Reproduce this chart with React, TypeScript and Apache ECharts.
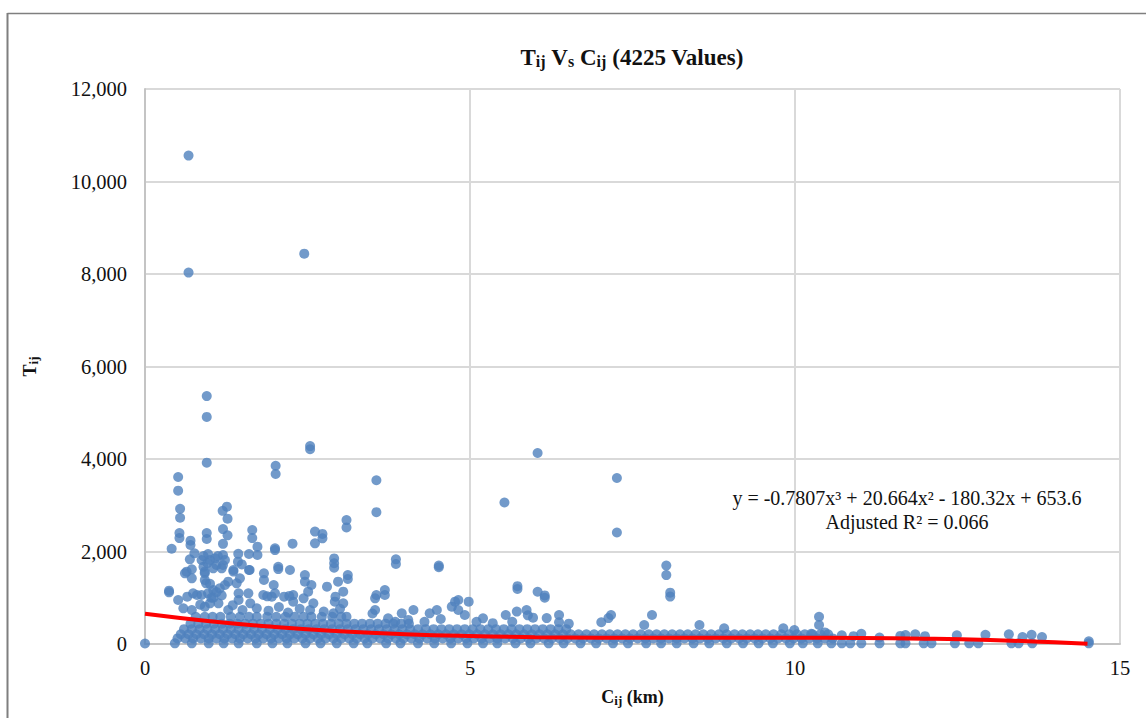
import React, { useEffect, useRef } from "react";
import * as echarts from "echarts";

const xTicks = [0, 5, 10, 15];
const yTicks = [0, 2000, 4000, 6000, 8000, 10000, 12000];

// isolated points: [Cij, Tij]
const outliers: number[][] = [
  [0, 10], [0.67, 10560], [0.67, 8030], [2.45, 8440], [0.95, 5360], [0.95, 4910], [0.95, 3920],
  [2.54, 4280], [2.54, 4210], [2.01, 3855], [2.01, 3675], [3.56, 3540], [3.56, 2850],
  [6.04, 4130], [7.26, 3590], [7.26, 2410], [5.53, 3060],
  [0.51, 3610], [0.51, 3315], [0.54, 2925], [0.54, 2730], [0.53, 2400], [0.53, 2290], [0.41, 2060],
  [0.7, 2235], [0.7, 2140], [0.76, 1960], [0.69, 1830],
  [1.26, 2970], [1.195, 2880], [1.27, 2710], [1.2, 2485], [1.27, 2350], [1.2, 2165],
  [0.95, 2400], [0.95, 2270], [1.65, 2465], [1.65, 2290], [1.73, 2105], [1.73, 1925], [1.6, 1945],
  [1.435, 1950], [1.43, 1780], [1.49, 1720], [1.6, 1600], [1.36, 1565],
  [2.0, 2070], [2.0, 2030], [2.27, 2170], [2.05, 1670], [2.05, 1620], [2.23, 1600],
  [2.615, 2430], [2.615, 2177], [2.73, 2380], [2.73, 2285],
  [3.1, 2680], [3.1, 2520], [2.91, 1850], [2.91, 1745], [2.91, 1650], [3.12, 1490], [3.12, 1405],
  [3.86, 1830], [3.86, 1730], [4.52, 1695], [4.52, 1660],
  [5.73, 1250], [5.73, 1190], [6.04, 1130], [6.15, 1050], [6.15, 1000],
  [8.02, 1695], [8.02, 1490], [8.08, 1110], [8.08, 1025],
];

// clusters above the dense band
const clusterLeft: number[][] = [
  [0.37, 1153], [0.37, 1117], [0.51, 951], [0.59, 771], [0.72, 735], [0.65, 1023], [0.74, 1095],
  [0.64, 1564], [0.72, 1614], [0.72, 1420], [0.615, 1528], [0.9, 1672], [0.92, 1528], [0.94, 1312],
  [0.87, 1060], [0.97, 1095], [0.92, 807], [1.0, 880], [1.0, 1816], [1.1, 1708], [1.2, 1708],
  [1.05, 1167], [1.23, 1275], [1.28, 1348], [1.15, 1203], [1.13, 880], [1.28, 735],
  [0.97, 1946], [0.87, 1816], [1.08, 1852], [1.2, 1924], [1.23, 1816], [1.18, 1636], [1.05, 1636],
  [0.92, 1564], [0.92, 1384], [0.8, 1060], [1.02, 1000], [1.1, 1120], [0.85, 850], [1.18, 1050],
  [1.0, 1300], [0.96, 1750], [0.9, 1900], [1.12, 1900], [1.05, 1000],
];
const clusterMid: number[][] = [
  [1.36, 1600], [1.46, 1420], [1.41, 1312], [1.44, 1095], [1.44, 951], [1.59, 1095], [1.62, 880],
  [1.72, 771], [1.5, 735], [1.61, 1600], [1.83, 1528], [1.83, 1384], [1.98, 1275], [1.82, 1060],
  [1.95, 1023], [2.0, 1095], [2.14, 1023], [2.28, 1060], [2.28, 915], [2.46, 1492], [2.46, 1348],
  [2.56, 1275], [2.51, 1131], [2.44, 987], [2.59, 880], [2.54, 735], [2.8, 1240], [2.97, 1348],
  [3.05, 1131], [2.93, 1023], [2.92, 915], [3.05, 880], [2.9, 663], [3.1, 591], [2.22, 1040],
  [1.88, 1030], [3.54, 987], [3.56, 1060], [3.69, 1167], [3.69, 1060], [3.54, 735], [3.5, 660],
  [2.06, 800], [2.38, 760], [2.75, 700], [1.9, 720], [2.2, 680], [3.0, 760], [1.35, 840],
];
const clusterRight: number[][] = [
  [4.13, 735], [3.95, 663], [4.38, 663], [4.49, 735], [3.74, 555], [4.72, 807], [4.77, 915],
  [4.82, 951], [4.82, 735], [4.92, 627], [4.98, 915], [5.2, 555], [5.55, 627], [5.72, 700],
  [5.87, 735], [5.89, 620], [5.97, 570], [6.18, 560], [6.37, 627], [6.37, 470], [6.52, 440],
  [7.02, 470], [7.17, 627], [7.13, 560], [7.8, 627], [7.68, 410], [8.53, 410], [8.91, 340],
  [9.82, 340], [10.37, 590], [10.37, 410], [9.99, 300], [10.46, 250], [10.25, 220],
  [5.1, 480], [5.35, 450], [5.65, 480], [4.3, 480], [4.05, 520], [3.85, 480], [4.55, 540],
];

// the solid band along the axis: one x list for each height
const bandLowX = [0.46, 0.72, 0.98, 1.21, 1.44, 1.72, 1.96, 2.19, 2.47, 2.7, 2.95, 3.21, 3.42, 3.71, 3.93, 4.2, 4.45, 4.71, 4.96, 5.2, 5.42, 5.7, 5.93, 6.21, 6.44, 6.7, 6.94, 7.2, 7.43, 7.71, 7.94, 8.18, 8.44, 8.68, 8.95, 9.2, 9.44, 9.66, 9.92, 10.12, 10.35, 10.56, 10.72, 10.85, 11.02, 11.3, 11.62, 11.7, 11.98, 12.1, 12.46, 12.68, 12.82, 13.33, 13.44, 13.65, 14.52];
const bandLowY = 15;
const bandMidX = [0.5, 0.62, 0.74, 0.86, 0.98, 1.1, 1.22, 1.34, 1.46, 1.58, 1.7, 1.82, 1.94, 2.06, 2.18, 2.3, 2.42, 2.54, 2.66, 2.78, 2.9, 3.02, 3.14, 3.26, 3.38, 3.5, 3.62, 3.74, 3.86, 3.98, 4.1, 4.22, 4.34, 4.46, 4.58, 4.7, 4.82, 4.94, 5.06, 5.18, 5.3, 5.42, 5.54, 5.66, 5.78, 5.9, 6.02, 6.14, 6.26, 6.38, 6.5, 6.62, 6.74, 6.86, 6.98, 7.1, 7.22, 7.34, 7.46, 7.58, 7.7, 7.82, 7.94, 8.06, 8.18, 8.3, 8.42, 8.54, 8.66, 8.78, 8.9, 9.02, 9.14, 9.26, 9.38, 9.5, 9.62, 9.74, 9.86, 9.98, 10.1, 10.22, 10.34, 10.46, 10.58];
const bandMidY = 120;
const bandHighX = [0.55, 0.67, 0.79, 0.91, 1.03, 1.15, 1.27, 1.39, 1.51, 1.63, 1.75, 1.87, 1.99, 2.11, 2.23, 2.35, 2.47, 2.59, 2.71, 2.83, 2.95, 3.07, 3.19, 3.31, 3.43, 3.55, 3.67, 3.79, 3.91, 4.03, 4.15, 4.27, 4.39, 4.51, 4.63, 4.75, 4.87, 4.99, 5.11, 5.23, 5.35, 5.47, 5.59, 5.71, 5.83, 5.95, 6.07, 6.19, 6.31, 6.43, 6.55, 6.67, 6.79, 6.91, 7.03, 7.15, 7.27, 7.39, 7.51, 7.63, 7.75, 7.87, 7.99, 8.11, 8.23, 8.35, 8.47, 8.59, 8.71, 8.83, 8.95, 9.07, 9.19, 9.31, 9.43, 9.55, 9.67, 9.79, 9.91, 10.03, 10.15, 10.27, 10.39, 10.51];
const bandHighY = 210;
const band300X = [0.6, 0.72, 0.84, 0.96, 1.08, 1.2, 1.32, 1.44, 1.56, 1.68, 1.8, 1.92, 2.04, 2.16, 2.28, 2.4, 2.52, 2.64, 2.76, 2.88, 3.0, 3.12, 3.24, 3.36, 3.48, 3.6, 3.72, 3.84, 3.96, 4.08, 4.2, 4.32, 4.44, 4.56, 4.68, 4.8, 4.92, 5.04, 5.16, 5.28, 5.4, 5.52, 5.64, 5.76, 5.88, 6.0, 6.12, 6.24, 6.36, 6.48];
const band300Y = 320;
const band450X = [0.7, 0.82, 0.94, 1.06, 1.18, 1.3, 1.42, 1.54, 1.66, 1.78, 1.9, 2.02, 2.14, 2.26, 2.38, 2.5, 2.62, 2.74, 2.86, 2.98, 3.1, 3.22, 3.34, 3.46, 3.58, 3.7, 3.82, 3.94, 4.06];
const band450Y = 440;
const band600X = [0.78, 0.92, 1.04, 1.16, 1.32, 1.46, 1.6, 1.72, 1.88, 2.02, 2.16, 2.3, 2.44, 2.56, 2.72, 2.88, 3.02];
const band600Y = 590;
const sparseRightX = [10.72, 10.9, 11.02, 11.3, 11.62, 11.7, 11.85, 12.0, 12.49, 12.93, 13.29, 13.5, 13.64, 13.8, 14.52];
const sparseRightY = [190, 170, 220, 140, 175, 195, 210, 170, 190, 200, 210, 150, 200, 150, 60];

// trend line
const trendX = [0, 1, 2, 3, 4, 5, 6, 7, 8, 9, 10, 11, 12, 13, 14, 14.5];
const trendY = [654, 493, 369, 278, 213, 171, 147, 136, 134, 135, 136, 131, 116, 86, 37, 4];

const row = (xs: number[], y: number) => xs.map((x) => [x, y]);

const font = '"Liberation Serif", "Times New Roman", serif';
const black = "#111111";

const titleText = "{m|T}{s|ij}{m| V}{s|s}{m| C}{s|ij}{m| (4225 Values)}";
const xName = "{m|C}{s|ij}{m| (km)}";
const yName = "{m|T}{s|ij}";
const equation = "y = -0.7807x³ + 20.664x² - 180.32x + 653.6";
const rSquared = "Adjusted R² = 0.066";

export default function App() {
  const ref = useRef<HTMLDivElement>(null);
  useEffect(() => {
    document.body.style.margin = "0";
    const chart = echarts.init(ref.current!, undefined, { renderer: "svg" });
    const nameRich = {
      m: { fontFamily: font, fontWeight: "bold", fontSize: 18, color: black },
      s: { fontFamily: font, fontWeight: "bold", fontSize: 13, color: black, verticalAlign: "bottom", padding: [7, 0, 0, 0] },
    };
    chart.setOption({
      animation: false,
      backgroundColor: "#ffffff",
      title: {
        text: titleText,
        left: 627,
        top: 40,
        textAlign: "center",
        textStyle: {
          rich: {
            m: { fontFamily: font, fontWeight: "bold", fontSize: 23, color: black },
            s: { fontFamily: font, fontWeight: "bold", fontSize: 16, color: black, verticalAlign: "bottom", padding: [8, 0, 0, 0] },
          },
        },
      },
      grid: { left: 145, right: 26, top: 89, bottom: 74 },
      xAxis: {
        type: "value",
        min: 0,
        max: 15,
        interval: 5,
        name: xName,
        nameLocation: "middle",
        nameGap: 43,
        nameTextStyle: { rich: nameRich },
        axisLine: { show: true, onZero: false, lineStyle: { color: "#c4c4c4", width: 2 } },
        axisTick: { show: false },
        axisLabel: { fontFamily: font, fontSize: 20.5, color: black, margin: 13 },
        splitLine: { show: true, lineStyle: { color: "#d9d9d9", width: 2 } },
      },
      yAxis: {
        type: "value",
        min: 0,
        max: 12000,
        interval: 2000,
        name: yName,
        nameLocation: "middle",
        nameGap: 105,
        nameRotate: 90,
        nameTextStyle: { rich: nameRich },
        axisLine: { show: true, onZero: false, lineStyle: { color: "#c4c4c4", width: 2 } },
        axisTick: { show: false },
        axisLabel: { fontFamily: font, fontSize: 20.5, color: black, margin: 18 },
        splitLine: { show: true, lineStyle: { color: "#d9d9d9", width: 2 } },
      },
      series: [
        {
          type: "scatter",
          symbol: "circle",
          symbolSize: 10,
          clip: false,
          itemStyle: { color: "#4f81bd" },
          z: 3,
          data: [
            ...outliers,
            ...clusterLeft,
            ...clusterMid,
            ...clusterRight,
            ...row(bandLowX, bandLowY),
            ...row(bandMidX, bandMidY),
            ...row(bandHighX, bandHighY),
            ...row(band300X, band300Y),
            ...row(band450X, band450Y),
            ...row(band600X, band600Y),
            ...sparseRightX.map((x, i) => [x, sparseRightY[i]]),
          ],
        },
        {
          type: "line",
          smooth: true,
          showSymbol: false,
          symbol: "none",
          clip: false,
          lineStyle: { color: "#ff0000", width: 4 },
          z: 4,
          data: trendX.map((x, i) => [x, trendY[i]]),
        },
      ],
      graphic: [
        { type: "line", z: 10, shape: { x1: 7.5, y1: 13.5, x2: 1146, y2: 13.5 }, style: { stroke: "#7f7f7f", lineWidth: 1.5 } },
        { type: "line", z: 10, shape: { x1: 7.5, y1: 13, x2: 7.5, y2: 718 }, style: { stroke: "#7f7f7f", lineWidth: 2 } },
        { type: "text", z: 10, x: 907, y: 488, style: { text: equation, font: `20px ${font}`, fill: black, textAlign: "center" } },
        { type: "text", z: 10, x: 907, y: 512, style: { text: rSquared, font: `20px ${font}`, fill: black, textAlign: "center" } },
      ],
    });
    return () => chart.dispose();
  }, []);
  return <div ref={ref} style={{ position: "absolute", left: 0, top: 0, width: 1146, height: 718 }} />;
}
